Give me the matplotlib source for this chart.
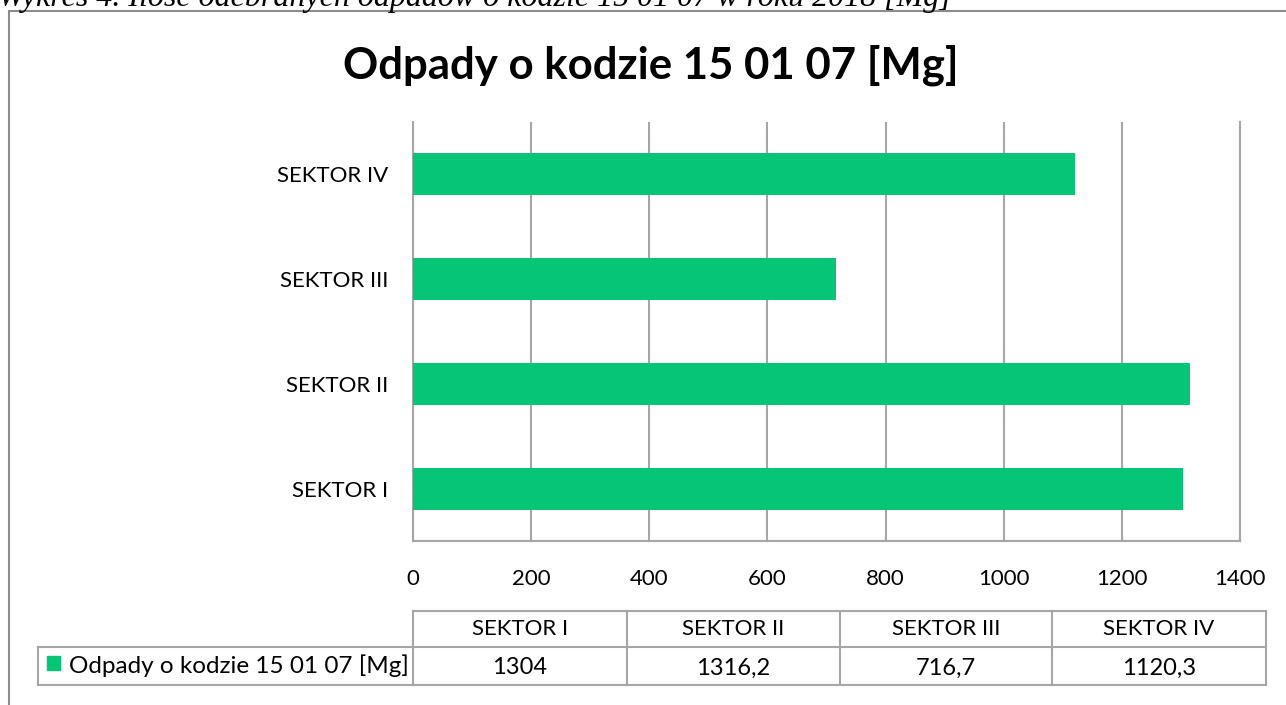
import matplotlib
matplotlib.use("Agg")
import matplotlib.pyplot as plt
from matplotlib.lines import Line2D
from matplotlib.patches import Rectangle

plt.rcParams['font.family'] = ['Lato', 'DejaVu Sans']

sectors = ['SEKTOR I', 'SEKTOR II', 'SEKTOR III', 'SEKTOR IV']
values = [1304, 1316.2, 716.7, 1120.3]
series_name = 'Odpady o kodzie 15 01 07 [Mg]'
caption = 'Wykres 4. Ilość odebranych odpadów o kodzie 15 01 07 w roku 2018 [Mg]'
xticks = [0, 200, 400, 600, 800, 1000, 1200, 1400]

GREEN = '#06c577'
GRID = '#a6a6a6'
W, H = 1286, 705

fig = plt.figure(figsize=(W / 100, H / 100), dpi=100)

# overlay in pixel coords for frame, caption and data table
ov = fig.add_axes([0, 0, 1, 1])
ov.set_xlim(0, W)
ov.set_ylim(H, 0)
ov.axis('off')

ov.add_line(Line2D([9, 9], [11, H], color='#8c8c8c', lw=1.5))
ov.add_line(Line2D([9, W], [11, 11], color='#8c8c8c', lw=1.5))
# caption of the page, cut at the top edge as in the source
ov.text(-2, 6, caption, family='Liberation Serif', style='italic',
        fontsize=23, ha='left', va='baseline')

ov.text(651, 65, series_name, fontsize=31.5,
        fontweight='bold', ha='center', va='center')

# main bar chart
ax = fig.add_axes([413 / W, 1 - 541 / H, (1240 - 413) / W, (541 - 122) / H])
ypos = range(len(sectors))
ax.barh(ypos, values, height=0.4, color=GREEN, zorder=3)
ax.set_xlim(0, 1400)
ax.set_ylim(-0.5, len(sectors) - 0.5)
ax.set_xticks(xticks)
ax.set_xticklabels([str(t) for t in xticks], fontsize=16)
ax.set_yticks(list(ypos))
ax.set_yticklabels(sectors, fontsize=16)
ax.tick_params(length=0, pad=18, axis='y')
ax.tick_params(length=0, pad=20, axis='x')
ax.grid(axis='x', color=GRID, lw=1.5, zorder=0)
for s in ['left', 'bottom', 'right']:
    ax.spines[s].set_color(GRID)
    ax.spines[s].set_linewidth(1.5)
ax.spines['top'].set_visible(False)

# data table under the chart
cols = [413, 627, 840, 1052, 1266]
r0, r1, r2 = 611, 647, 685
lk = dict(color=GRID, lw=1.5)
ov.add_line(Line2D([413, 1266], [r0, r0], **lk))
ov.add_line(Line2D([38, 1266], [r1, r1], **lk))
ov.add_line(Line2D([38, 1266], [r2, r2], **lk))
ov.add_line(Line2D([38, 38], [r1, r2], **lk))
for c in cols:
    ov.add_line(Line2D([c, c], [r0, r2], **lk))

for i, (name, v) in enumerate(zip(sectors, values)):
    cx = (cols[i] + cols[i + 1]) / 2
    ov.text(cx, (r0 + r1) / 2, name, fontsize=16, ha='center', va='center')
    lab = ('%g' % v).replace('.', ',')
    ov.text(cx, (r1 + r2) / 2 + 2, lab, fontsize=17, ha='center', va='center')

ov.add_patch(Rectangle((47, 656), 13, 14, color=GREEN))
ov.text(69, (r1 + r2) / 2, series_name, fontsize=17.5, ha='left', va='center')

fig.savefig('out.png', dpi=100)
